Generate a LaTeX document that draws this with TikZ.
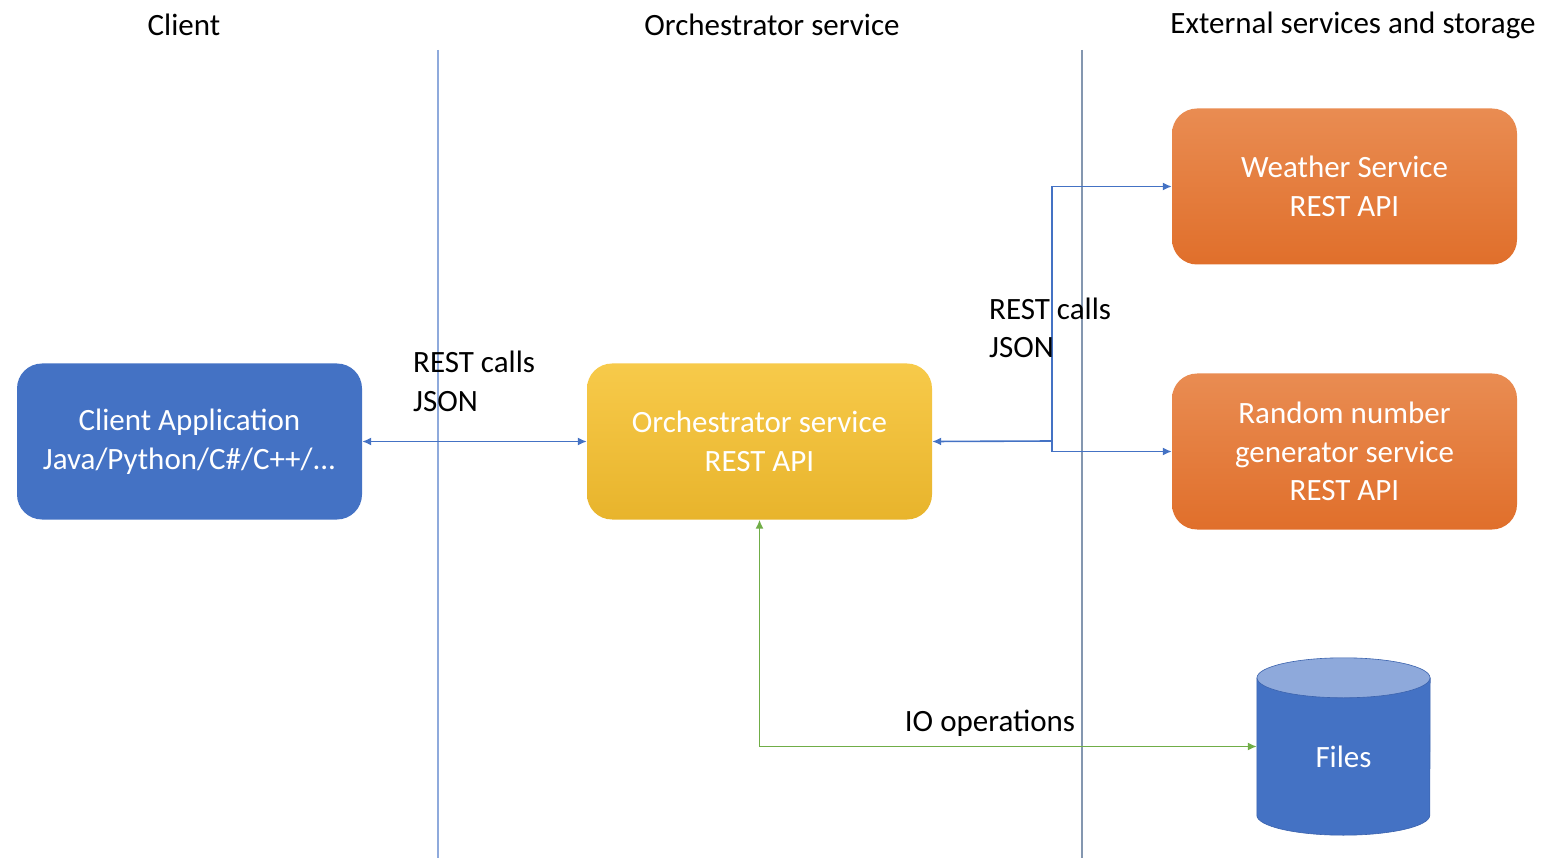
\documentclass[tikz,border=0pt]{standalone}
\usepackage{fontspec}
\setmainfont{Carlito}
\usepackage{xcolor}
\usetikzlibrary{arrows.meta}

\definecolor{clientblue}{HTML}{4472C4}
\definecolor{lanelight}{HTML}{8FAADC}
\definecolor{lanegray}{HTML}{8497B0}
\definecolor{ioGreen}{HTML}{70AD47}
\definecolor{orchTop}{HTML}{F7CA4A}
\definecolor{orchBot}{HTML}{E8B42C}
\definecolor{extTop}{HTML}{E98C52}
\definecolor{extBot}{HTML}{E06F2B}
\definecolor{filesTop}{HTML}{8EA9DB}
\definecolor{filesEdge}{HTML}{3A62AD}

\tikzset{
    >={Latex[length=9pt,width=8pt]},
    box/.style={rounded corners=25pt, minimum width=345pt, minimum height=156pt,
        align=center, text=white, inner sep=0pt},
    conn/.style={clientblue, line width=1.6pt},
    io/.style={ioGreen, line width=1.6pt},
    lane/.style={line width=1.2pt},
    label/.style={align=left, anchor=west, inner sep=0pt}
}

\begin{document}
\begin{tikzpicture}[x=1pt, y=-1pt, font=\fontsize{31}{38.5}\selectfont]
    \useasboundingbox (0,0) rectangle (1556,858);

    % lanes
    \node (hclient) at (184,25) {Client};
    \node (horch) at (772,25) {Orchestrator service};
    \node (hext) at (1353,25) {External services and storage};
    \draw[lane, lanelight] (438,50) -- (438,858);
    \draw[lane, lanegray] (1082,50) -- (1082,858);

    % boxes
    \node[box, fill=clientblue] (client) at (189.5,441.5) {Client Application\\Java/Python/C\#/C++/...};
    \node[box, top color=orchTop, bottom color=orchBot] (orch) at (759.5,441.5) {Orchestrator service\\REST API};
    \node[box, top color=extTop, bottom color=extBot] (weather) at (1344.5,186.5) {Weather Service\\REST API};
    \node[box, top color=extTop, bottom color=extBot] (random) at (1344.5,451.5) {Random number\\generator service\\REST API};

    % storage
    \node[minimum width=173pt, minimum height=177pt, inner sep=0pt] (files) at (1343.5,746.5) {};
    \fill[clientblue, draw=filesEdge, line width=0.6pt] ([yshift=-20pt]files.north west) -- ([yshift=20pt]files.south west)
        arc[start angle=180, end angle=360, x radius=86.5pt, y radius=20pt] -- ([yshift=-20pt]files.north east) -- cycle;
    \filldraw[fill=filesTop, draw=filesEdge, line width=0.6pt] ([yshift=-20pt]files.north) ellipse[x radius=86.5pt, y radius=20pt];
    \node[text=white] (fileslabel) at ([yshift=-10pt]files.center) {Files};

    % connectors
    \draw[conn, <->] (client.east) -- (orch.west);
    \node[label] (restl) at (413,381.5) {REST calls\\JSON};
    \coordinate (split) at (1052,441);
    \draw[conn, ->] (split) -- (orch.east);
    \draw[conn, ->] (split) |- (weather.west);
    \draw[conn, ->] (split) |- (random.west);
    \node[label] (restr) at (989,328) {REST calls\\JSON};
    \draw[io, <->] (orch.south) |- (files.west);
    \node (iolabel) at (990,723) {IO operations};
\end{tikzpicture}
\end{document}
